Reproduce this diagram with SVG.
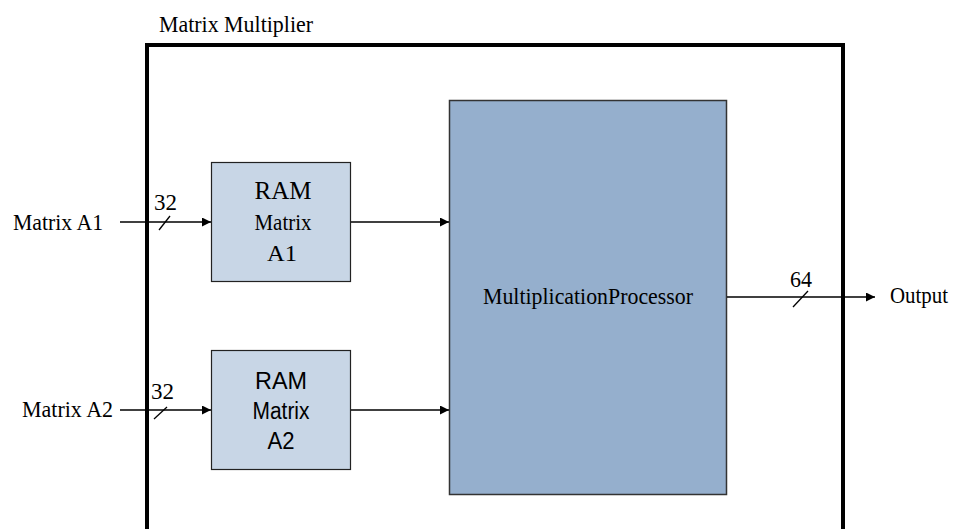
<svg xmlns="http://www.w3.org/2000/svg" width="955" height="529" viewBox="0 0 955 529">
<defs>
<style>
.t{font-family:"Liberation Serif","Times New Roman",serif;font-size:24px;fill:#000}
.a{font-family:"Liberation Sans",Arial,sans-serif;font-size:23px;fill:#000}
.ln{stroke:#000;stroke-width:1.3;fill:none}
.ram{fill:#C8D6E6;stroke:#222;stroke-width:1.2}
</style>
<marker id="ah" viewBox="0 0 10 10" refX="10" refY="5" markerWidth="10" markerHeight="9" markerUnits="userSpaceOnUse" orient="auto">
<path d="M0,0 L10,5 L0,10 Z" fill="#000"/>
</marker>
</defs>
<g id="frame">
<rect x="147" y="45" width="696" height="500" fill="none" stroke="#000" stroke-width="4"/>
<text class="t" x="159" y="32" textLength="154" lengthAdjust="spacingAndGlyphs">Matrix Multiplier</text>
</g>
<g id="ramA1">
<rect class="ram" x="211.5" y="162.5" width="139" height="119"/>
<text class="t" x="283" y="199" text-anchor="middle" style="font-size:25px">RAM</text>
<text class="t" x="283" y="230" text-anchor="middle" textLength="57" lengthAdjust="spacingAndGlyphs">Matrix</text>
<text class="t" x="282" y="261" text-anchor="middle" textLength="30" lengthAdjust="spacingAndGlyphs">A1</text>
</g>
<g id="ramA2">
<rect class="ram" x="211.5" y="350.5" width="139" height="119"/>
<text class="a" x="281" y="389" text-anchor="middle" textLength="52" lengthAdjust="spacingAndGlyphs">RAM</text>
<text class="a" x="281" y="419" text-anchor="middle" textLength="57" lengthAdjust="spacingAndGlyphs">Matrix</text>
<text class="a" x="281" y="449" text-anchor="middle" textLength="27" lengthAdjust="spacingAndGlyphs">A2</text>
</g>
<g id="processor">
<rect x="449.5" y="100.5" width="277" height="394" fill="#95AFCD" stroke="#333" stroke-width="1.5"/>
<text class="t" x="483" y="304" textLength="210" lengthAdjust="spacingAndGlyphs">MultiplicationProcessor</text>
</g>
<g id="inA1"><text class="t" x="13" y="230" textLength="90" lengthAdjust="spacingAndGlyphs">Matrix A1</text></g>
<g id="inA2"><text class="t" x="22" y="417" textLength="91" lengthAdjust="spacingAndGlyphs">Matrix A2</text></g>
<g id="out"><text class="t" x="890" y="303" textLength="58" lengthAdjust="spacingAndGlyphs">Output</text></g>
<g id="connectors">
<line class="ln" x1="120" y1="222" x2="211" y2="222" marker-end="url(#ah)"/>
<line class="ln" x1="159" y1="230" x2="170" y2="216"/>
<text class="t" x="154" y="210" textLength="23" lengthAdjust="spacingAndGlyphs">32</text>
<line class="ln" x1="120" y1="410" x2="211" y2="410" marker-end="url(#ah)"/>
<line class="ln" x1="154" y1="419" x2="167" y2="407"/>
<text class="t" x="151" y="399" textLength="23" lengthAdjust="spacingAndGlyphs">32</text>
<line class="ln" x1="351" y1="222" x2="449" y2="222" marker-end="url(#ah)"/>
<line class="ln" x1="351" y1="410" x2="449" y2="410" marker-end="url(#ah)"/>
<line class="ln" x1="727" y1="297" x2="875" y2="297" marker-end="url(#ah)"/>
<line class="ln" x1="793" y1="307" x2="808" y2="291"/>
<text class="t" x="790" y="287" textLength="22" lengthAdjust="spacingAndGlyphs">64</text>
</g>
</svg>
